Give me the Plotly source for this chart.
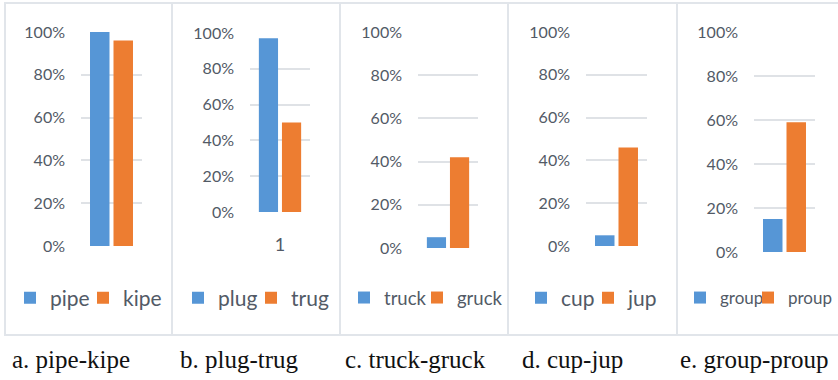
import plotly.graph_objects as go

# ---- data -------------------------------------------------------------
panel_tags = ["a", "b", "c", "d", "e"]
real_words = ["pipe", "plug", "truck", "cup", "group"]
pseudo_words = ["kipe", "trug", "gruck", "jup", "proup"]
real_values = [1.00, 0.97, 0.05, 0.05, 0.15]
pseudo_values = [0.96, 0.50, 0.42, 0.46, 0.59]
category = ["1"]
y_tick_vals = [0, 0.2, 0.4, 0.6, 0.8, 1.0]
y_tick_text = ["0%", "20%", "40%", "60%", "80%", "100%"]
captions = ["a. pipe-kipe", "b. plug-trug", "c. truck-gruck", "d. cup-jup", "e. group-proup"]

# ---- geometry (pixels) -------------------------------------------------
W, H = 838, 380
frame_edges = [5, 172, 340, 508, 677, 846]
frame_top, frame_bottom = 3, 335
plot_x = [(81, 142), (250, 310), (418, 478), (586, 647), (754, 815)]
plot_y = [(246, 32), (212, 33), (248, 32), (246, 32), (252, 32)]   # (0 %, 100 %)
# left edge of the colour key square for each legend entry
key_left = [(27, 100), (195, 268), (361, 434), (538, 605), (697, 765)]
legend_size = [21, 21, 18.5, 21, 17]
legend_cy = 298
caption_x = [10, 178, 343, 520, 678]
caption_cy = 359

BLUE = "#5696d6"
ORANGE = "#ed7d31"
TEXT = "#525a66"
GRID = "#dfe2e6"
FRAME = "#e1e5ea"


def px_x(v):
    return v / W


def px_y(v):
    return 1 - v / H


def legend_name(k):
    return "legend" if k == 0 else "legend" + str(k + 1)


fig = go.Figure()

for i in range(5):
    n = "" if i == 0 else str(i + 1)
    leg_a = legend_name(2 * i)
    leg_b = legend_name(2 * i + 1)
    fig.add_trace(go.Bar(
        x=category, y=[real_values[i]], name=real_words[i],
        marker=dict(color=BLUE, line=dict(width=0)),
        xaxis="x" + n, yaxis="y" + n, legend=leg_a, hoverinfo="skip",
    ))
    fig.add_trace(go.Bar(
        x=category, y=[pseudo_values[i]], name=pseudo_words[i],
        marker=dict(color=ORANGE, line=dict(width=0)),
        xaxis="x" + n, yaxis="y" + n, legend=leg_b, hoverinfo="skip",
    ))

    x0, x1 = plot_x[i]
    yb, yt = plot_y[i]
    fig.layout["xaxis" + n] = dict(
        domain=[px_x(x0), px_x(x1)], anchor="y" + n, type="category",
        range=[-0.5, 0.5], showgrid=False, zeroline=False, showline=False,
        ticks="", showticklabels=(i == 1), ticklabelstandoff=20,
        tickfont=dict(family="Lato", size=18, color=TEXT), fixedrange=True,
    )
    fig.layout["yaxis" + n] = dict(
        domain=[px_y(yb), px_y(yt)], anchor="x" + n, range=[0, 1],
        tickvals=y_tick_vals, ticktext=y_tick_text, showgrid=True,
        gridcolor=GRID, gridwidth=2, zeroline=False, showline=False,
        ticks="", ticklabelstandoff=15,
        tickfont=dict(family="Lato", size=16, color=TEXT), fixedrange=True,
    )
    for leg, left in ((leg_a, key_left[i][0]), (leg_b, key_left[i][1])):
        fig.layout[leg] = dict(
            orientation="h", x=px_x(left - 17), xanchor="left",
            y=px_y(legend_cy), yanchor="middle", bgcolor="rgba(0,0,0,0)",
            font=dict(family="Lato", size=legend_size[i], color=TEXT),
            itemwidth=30, itemclick=False, itemdoubleclick=False,
        )

    fig.add_shape(
        type="rect", xref="paper", yref="paper", layer="below",
        x0=px_x(frame_edges[i]), x1=px_x(frame_edges[i + 1]),
        y0=px_y(frame_bottom), y1=px_y(frame_top),
        line=dict(color=FRAME, width=2), fillcolor="white",
    )
    fig.add_annotation(
        text=captions[i], xref="paper", yref="paper", showarrow=False,
        x=px_x(caption_x[i]), xanchor="left", y=px_y(caption_cy), yanchor="middle",
        font=dict(family="Liberation Serif", size=25, color="#111111"),
    )

fig.update_layout(
    width=W, height=H,
    margin=dict(l=0, r=0, t=0, b=0, autoexpand=False),
    paper_bgcolor="white", plot_bgcolor="rgba(0,0,0,0)",
    barmode="group", bargap=0.23, bargroupgap=0.17,
    showlegend=True,
)

fig.write_html("out.html", config=dict(displayModeBar=False, staticPlot=True))
